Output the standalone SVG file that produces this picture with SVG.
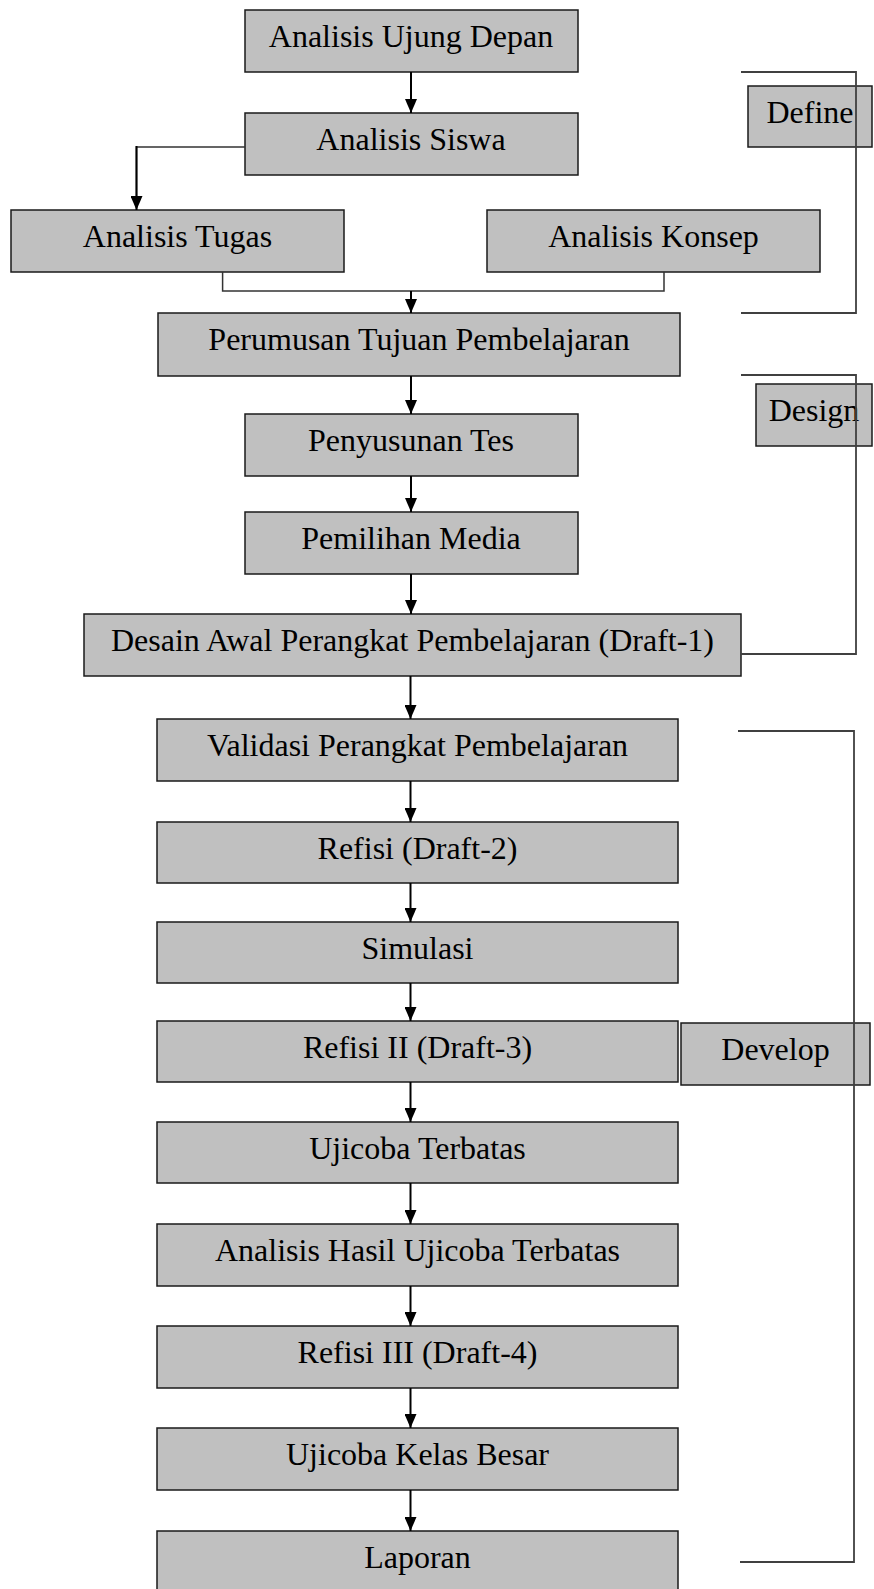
<svg xmlns="http://www.w3.org/2000/svg" width="874" height="1589" viewBox="0 0 874 1589">
<style>
.b{fill:#c0c0c0;stroke:#1a1a1a;stroke-width:1.5}
.t{font-family:"Liberation Serif","Times New Roman",serif;font-size:32px;fill:#000;text-anchor:middle}
.c{fill:none;stroke:#000;stroke-width:2}
.l{fill:none;stroke:#333;stroke-width:1.5}
.k{fill:none;stroke:#404040;stroke-width:1.8}
</style>
<defs>
<marker id="ah" markerUnits="userSpaceOnUse" markerWidth="14" markerHeight="12" refX="14" refY="6" orient="auto" viewBox="0 0 14 12">
<path d="M0,0 L14,6 L0,12 Z" fill="#000"/>
</marker>
</defs>
<rect width="874" height="1589" fill="#fff"/>
<g id="n1"><rect class="b" x="245" y="10" width="333" height="62"/><text class="t" x="411" y="47">Analisis Ujung Depan</text></g>
<g id="n2"><rect class="b" x="245" y="113" width="333" height="62"/><text class="t" x="411" y="150">Analisis Siswa</text></g>
<g id="n3"><rect class="b" x="11" y="210" width="333" height="62"/><text class="t" x="177.5" y="247">Analisis Tugas</text></g>
<g id="n4"><rect class="b" x="487" y="210" width="333" height="62"/><text class="t" x="653.5" y="247">Analisis Konsep</text></g>
<g id="n5"><rect class="b" x="158" y="313" width="522" height="63"/><text class="t" x="419" y="350">Perumusan Tujuan Pembelajaran</text></g>
<g id="n6"><rect class="b" x="245" y="414" width="333" height="62"/><text class="t" x="411" y="451">Penyusunan Tes</text></g>
<g id="n7"><rect class="b" x="245" y="512" width="333" height="62"/><text class="t" x="411" y="549">Pemilihan Media</text></g>
<g id="n8"><rect class="b" x="84" y="614" width="657" height="62"/><text class="t" x="412.5" y="651">Desain Awal Perangkat Pembelajaran (Draft-1)</text></g>
<g id="n9"><rect class="b" x="157" y="719" width="521" height="62"/><text class="t" x="417.5" y="756">Validasi Perangkat Pembelajaran</text></g>
<g id="n10"><rect class="b" x="157" y="822" width="521" height="61"/><text class="t" x="417.5" y="859">Refisi (Draft-2)</text></g>
<g id="n11"><rect class="b" x="157" y="922" width="521" height="61"/><text class="t" x="417.5" y="959">Simulasi</text></g>
<g id="n12"><rect class="b" x="157" y="1021" width="521" height="61"/><text class="t" x="417.5" y="1058">Refisi II (Draft-3)</text></g>
<g id="n13"><rect class="b" x="157" y="1122" width="521" height="61"/><text class="t" x="417.5" y="1159">Ujicoba Terbatas</text></g>
<g id="n14"><rect class="b" x="157" y="1224" width="521" height="62"/><text class="t" x="417.5" y="1261">Analisis Hasil Ujicoba Terbatas</text></g>
<g id="n15"><rect class="b" x="157" y="1326" width="521" height="62"/><text class="t" x="417.5" y="1363">Refisi III (Draft-4)</text></g>
<g id="n16"><rect class="b" x="157" y="1428" width="521" height="62"/><text class="t" x="417.5" y="1465">Ujicoba Kelas Besar</text></g>
<g id="n17"><rect class="b" x="157" y="1531" width="521" height="70"/><text class="t" x="417.5" y="1568">Laporan</text></g>
<g id="p1"><rect class="b" x="748" y="86" width="124" height="61"/><text class="t" x="810" y="123">Define</text></g>
<g id="p2"><rect class="b" x="756" y="384" width="116" height="62"/><text class="t" x="814" y="421">Design</text></g>
<g id="p3"><rect class="b" x="681" y="1023" width="189" height="62"/><text class="t" x="775.5" y="1060">Develop</text></g>
<g id="connectors">
<path class="k" d="M741,72 H856 V313 H741"/>
<path class="k" d="M741,375 H856 V654 H741"/>
<path class="k" d="M738,731 H854 V1562 H740"/>
<path class="l" d="M245,147 H136.5 V200"/>
<path class="c" d="M136.5,146 V210" marker-end="url(#ah)"/>
<path class="l" d="M222.6,272 V291 H664 V272"/>
<path class="c" d="M411,72 V113" marker-end="url(#ah)"/>
<path class="c" d="M411,291 V313" marker-end="url(#ah)"/>
<path class="c" d="M411,376 V414" marker-end="url(#ah)"/>
<path class="c" d="M411,476 V512" marker-end="url(#ah)"/>
<path class="c" d="M411,574 V614" marker-end="url(#ah)"/>
<path class="c" d="M410.5,676 V719" marker-end="url(#ah)"/>
<path class="c" d="M410.5,781 V822" marker-end="url(#ah)"/>
<path class="c" d="M410.5,883 V922" marker-end="url(#ah)"/>
<path class="c" d="M410.5,983 V1021" marker-end="url(#ah)"/>
<path class="c" d="M410.5,1082 V1122" marker-end="url(#ah)"/>
<path class="c" d="M410.5,1183 V1224" marker-end="url(#ah)"/>
<path class="c" d="M410.5,1286 V1326" marker-end="url(#ah)"/>
<path class="c" d="M410.5,1388 V1428" marker-end="url(#ah)"/>
<path class="c" d="M410.5,1490 V1531" marker-end="url(#ah)"/>
</g>
</svg>
